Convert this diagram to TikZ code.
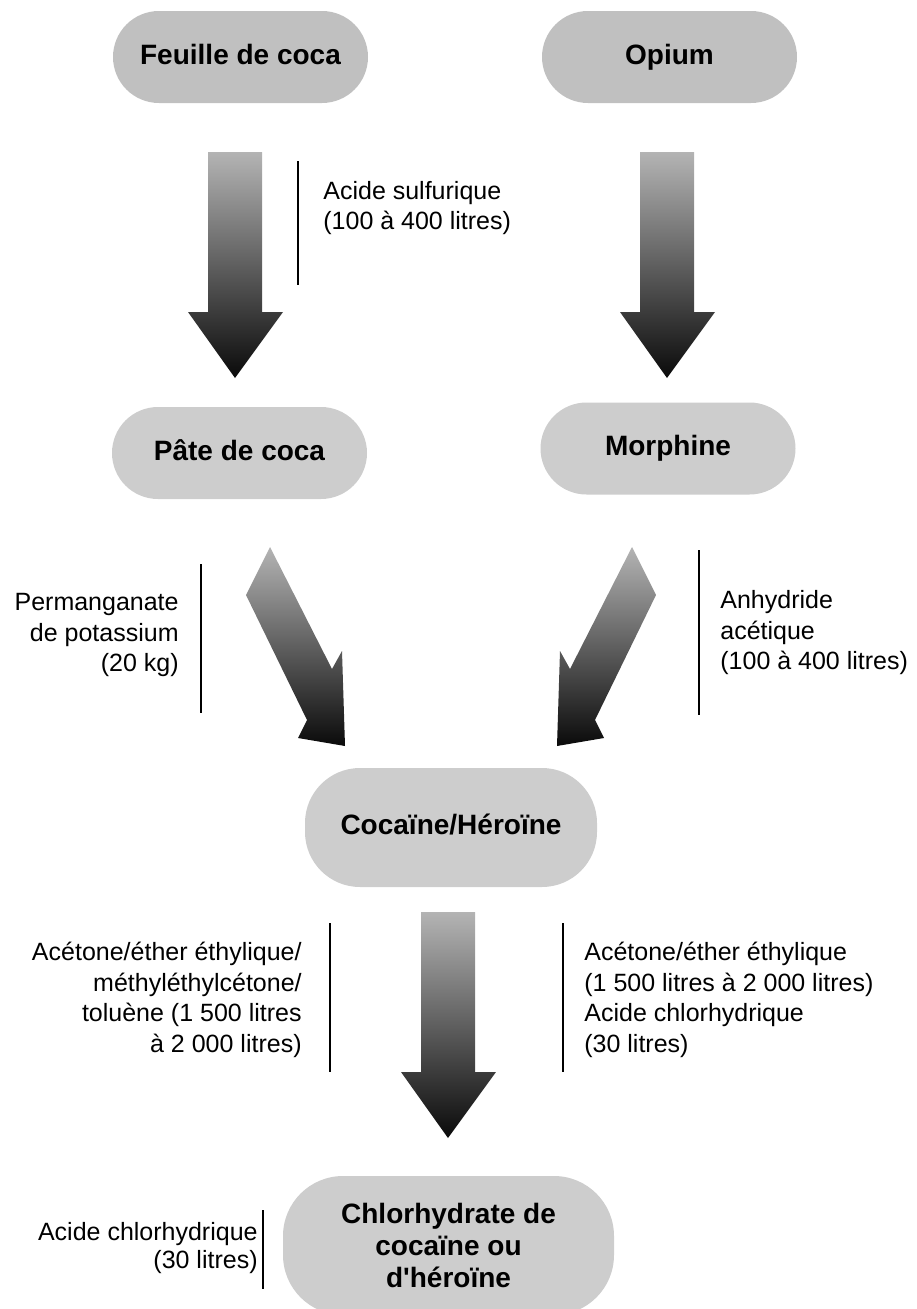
\documentclass[tikz,border=0pt]{standalone}
\usepackage{fontspec}
\setmainfont{Liberation Sans}
\definecolor{stagedark}{HTML}{C0C0C0}
\definecolor{stagelight}{HTML}{CDCDCD}
\definecolor{arrowtop}{HTML}{B4B4B4}
\definecolor{arrowbot}{HTML}{0A0A0A}
\tikzset{every picture/.style={line width=0.75pt}}
\tikzset{
  stage/.style={rounded corners=46pt, minimum width=255pt, minimum height=92pt, inner sep=0pt,
    font=\fontsize{28}{32}\selectfont\bfseries, align=center},
  oneline/.style={text height=20pt, text depth=6pt},
  reagent/.style={inner sep=0pt, font=\fontsize{25}{30.5}\selectfont},
  bracket/.style={line width=2.5pt},
  bigarrow/.style={top color=arrowtop, bottom color=arrowbot},
}

\begin{document}
\begin{tikzpicture}[x=1pt,y=1pt,yscale=-1,xscale=1]
\useasboundingbox (0,0) rectangle (917,1309);

% Rounded Rect
\node[stage, oneline, fill=stagedark] (feuille) at (240.5,57) {Feuille de coca};
% Rounded Rect
\node[stage, oneline, fill=stagedark] (opium) at (669.5,57) {Opium};
% Rounded Rect
\node[stage, oneline, fill=stagelight] (pate) at (239.5,453) {Pâte de coca};
% Rounded Rect
\node[stage, oneline, fill=stagelight] (morphine) at (668,448.5) {Morphine};
% Rounded Rect
\node[stage, oneline, fill=stagelight, minimum width=292pt, minimum height=119pt, rounded corners=55pt] (cocaine) at (451,827.5) {Cocaïne/Héroïne};
% Rounded Rect
\node[stage, fill=stagelight, minimum width=331pt, minimum height=139pt, rounded corners=60pt] (chlorhydrate) at (448.5,1245.5) {Chlorhydrate de\\cocaïne ou\\d\textquotesingle héroïne};

%Shape: Down Arrow
\shade[bigarrow] (208,152) -- (262,152) -- (262,312) -- (283,312) -- (235,378) -- (188,312) -- (208,312) -- cycle;
%Shape: Down Arrow
\shade[bigarrow] (640,152) -- (694,152) -- (694,312) -- (715,312) -- (667,378) -- (620,312) -- (640,312) -- cycle;
%Shape: Slanted Arrow
\shade[bigarrow] (270,547) -- (332,669) -- (342,651) -- (345,746) -- (298,738) -- (307,720) -- (246,595) -- cycle;
%Shape: Slanted Arrow
\shade[bigarrow] (632,547) -- (570,669) -- (560,651) -- (557,746) -- (604,738) -- (595,720) -- (656,595) -- cycle;
%Shape: Down Arrow
\shade[bigarrow] (421,912) -- (475,912) -- (475,1072) -- (496,1072) -- (448,1138) -- (401,1072) -- (421,1072) -- cycle;

%Straight Lines
\draw[bracket] (298,161) -- (298,285);
%Straight Lines
\draw[bracket] (201,564) -- (201,713);
%Straight Lines
\draw[bracket] (699,550) -- (699,715);
%Straight Lines
\draw[bracket] (330,923) -- (330,1072);
%Straight Lines
\draw[bracket] (563,923) -- (563,1072);
%Straight Lines
\draw[bracket] (263,1210) -- (263,1289);

% Text Node
\node[reagent, anchor=west, align=left] (sulfurique) at (323,208) {Acide sulfurique\\(100 à 400 litres)};
% Text Node
\node[reagent, anchor=east, align=right] (permanganate) at (179,635) {Permanganate\\de potassium\\(20 kg)};
% Text Node
\node[reagent, anchor=west, align=left] (anhydride) at (720,633) {Anhydride\\acétique\\(100 à 400 litres)};
% Text Node
\node[reagent, anchor=east, align=right] (solvcoca) at (302,1000) {Acétone/éther éthylique/\\méthyléthylcétone/\\toluène (1~500 litres\\à 2~000 litres)};
% Text Node
\node[reagent, anchor=west, align=left] (solvheroine) at (584,1000) {Acétone/éther éthylique\\(1~500 litres à 2~000 litres)\\Acide chlorhydrique\\(30 litres)};
% Text Node
\node[reagent, anchor=east, align=right, font=\fontsize{25}{27.5}\selectfont] (chlorhydrique) at (258,1248) {Acide chlorhydrique\\(30 litres)};

\end{tikzpicture}
\end{document}
